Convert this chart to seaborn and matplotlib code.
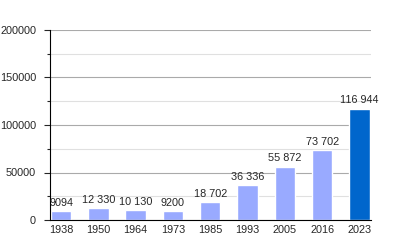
import matplotlib
matplotlib.use("Agg")
import matplotlib.pyplot as plt
import seaborn as sns
import pandas as pd
from matplotlib.ticker import MultipleLocator

years = ["1938", "1950", "1964", "1973", "1985", "1993", "2005", "2016", "2023"]
population = [9094, 12330, 10130, 9200, 18702, 36336, 55872, 73702, 116944]
labels = ["9094", "12 330", "10 130", "9200", "18 702", "36 336", "55 872", "73 702", "116 944"]
colors = ["#99aaff"] * 8 + ["#0066cc"]

sns.set_style("white")
plt.rcParams["font.family"] = ["Liberation Sans", "DejaVu Sans"]

df = pd.DataFrame({"year": years, "pop": population})
fig = plt.figure(figsize=(4, 2.5), dpi=100)
ax = fig.add_axes([0.125, 0.12, 0.8025, 0.76])
sns.barplot(data=df, x="year", y="pop", hue="year", palette=colors, legend=False,
            width=0.55, ax=ax, saturation=1)

ax.set_ylim(0, 200000)
ax.set_xlim(-0.295, len(years) - 1 + 0.31)
ax.yaxis.set_major_locator(MultipleLocator(50000))
ax.yaxis.set_minor_locator(MultipleLocator(25000))
ax.grid(which="major", axis="y", color="#aaaaaa", linewidth=0.8)
ax.grid(which="minor", axis="y", color="#e0e0e0", linewidth=0.8)
ax.set_axisbelow(True)
for s in ["top", "right"]:
    ax.spines[s].set_visible(False)
ax.spines["left"].set_color("black")
ax.spines["bottom"].set_color("black")
ax.spines["left"].set_linewidth(0.8)
ax.spines["bottom"].set_linewidth(0.8)
ax.tick_params(axis="y", which="major", left=True, length=4, width=0.8, labelsize=7.8, pad=6)
ax.tick_params(axis="y", which="minor", left=True, length=2, width=0.8)
ax.tick_params(axis="x", bottom=False, labelsize=7.8, pad=0)
ax.set_xlabel("")
ax.set_ylabel("")

for container in ax.containers:
    for bar in container:
        idx = int(round(bar.get_x() + bar.get_width() / 2))
        ax.annotate(labels[idx], (bar.get_x() + bar.get_width() / 2, bar.get_height()),
                    xytext=(0, 2.5), textcoords="offset points", ha="center", va="bottom",
                    fontsize=7.8)

fig.savefig("out.png", dpi=100)
